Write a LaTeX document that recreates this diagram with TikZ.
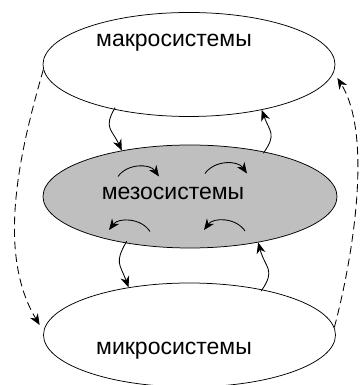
\documentclass[tikz,border=0pt]{standalone}
\usepackage{fontspec}
\setsansfont{Liberation Sans}
\usetikzlibrary{arrows.meta,shapes.geometric,positioning}
\tikzset{
    basic/.style  = {draw, ellipse, line width=0.75pt, inner sep=0pt},
    system/.style = {basic, fill=white, minimum width=292pt, minimum height=104pt},
    meso system/.style = {basic, fill=black!25, minimum width=294pt, minimum height=103pt},
    caption/.style = {font=\sffamily\fontsize{23}{27}\selectfont, inner sep=0pt, anchor=base},
    link/.style = {->, line width=0.85pt},
    loop link/.style = {link, dashed, dash pattern=on 8pt off 4.5pt}
}

\begin{document}
\begin{tikzpicture}[x=1pt, y=1pt, >={Stealth[length=11pt,width=9pt,inset=3.5pt]}]
	\useasboundingbox (0,0) rectangle (359,385);
	\node[system] (macro) at (189,320.5) {};
	\node[meso system] (meso) at (190,188.5) {};
	\node[system] (micro) at (189.5,50) {};
	\node[caption] (macro text) at (174,338) {макросистемы};
	\node[caption] (meso text) at (173,185) {мезосистемы};
	\node[caption] (micro text) at (174,30) {микросистемы};
	% links between levels
	\draw[link] ([shift={(1,2)}]macro.211) to[out=240, in=115, looseness=1.4] (meso.146);
	\draw[link] ([shift={(1,-2)}]meso.32) to[out=55, in=-70, looseness=1.4] (macro.328);
	\draw[link] ([shift={(1,2)}]meso.216) to[out=240, in=110, looseness=1.4] (micro.142);
	\draw[link] ([shift={(1,-2)}]micro.33) to[out=55, in=-75, looseness=1.4] (meso.326);
	% links inside the meso level
	\coordinate (in1) at ([shift={(-72,20)}]meso.center);
	\coordinate (out1) at ([shift={(-31,20)}]meso.center);
	\coordinate (in2) at ([shift={(15,23)}]meso.center);
	\coordinate (out2) at ([shift={(57,23)}]meso.center);
	\coordinate (in3) at ([shift={(-40,-35)}]meso.center);
	\coordinate (out3) at ([shift={(-81,-33.5)}]meso.center);
	\coordinate (in4) at ([shift={(55,-34.5)}]meso.center);
	\coordinate (out4) at ([shift={(14,-33.5)}]meso.center);
	\draw[link] (in1) to[bend left=55] (out1);
	\draw[link] (in2) to[bend left=55] (out2);
	\draw[link] (in3) to[bend right=55] (out3);
	\draw[link] (in4) to[bend right=55] (out4);
	% dashed links macro <-> micro
	\draw[loop link] (macro.182) to[out=254, in=121, looseness=0.85] ([shift={(-3.5,10)}]micro.west);
	\draw[loop link] (micro.3) to[out=75, in=-58, looseness=0.7] ([shift={(2,-13.5)}]macro.east);
\end{tikzpicture}
\end{document}
